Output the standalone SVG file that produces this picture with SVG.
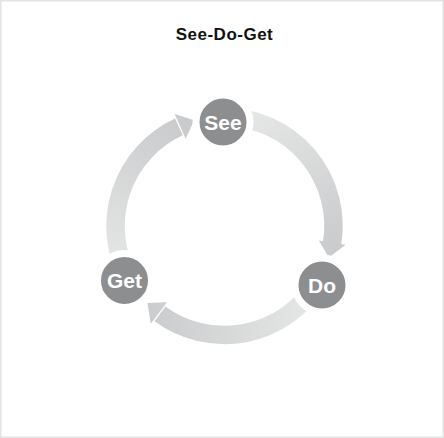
<svg xmlns="http://www.w3.org/2000/svg" width="444" height="438" viewBox="0 0 444 438">
  <style>
    .node circle { fill: #8d8e90; stroke: #ffffff; stroke-width: 7; }
    .node text { font-family: "Liberation Sans", Arial, sans-serif; font-weight: bold; font-size: 21px; fill: #ffffff; text-anchor: middle; }
    .title { font-family: "Liberation Sans", Arial, sans-serif; font-weight: bold; font-size: 17px; fill: #111111; text-anchor: middle; letter-spacing: 0.5px; }
    .shaft { fill: none; stroke-width: 18.5; stroke-linecap: butt; }
  </style>
  <defs>
    <linearGradient id="g1" gradientUnits="userSpaceOnUse" x1="255" y1="112" x2="330" y2="252">
      <stop offset="0" stop-color="#e5e6e6"/>
      <stop offset="1" stop-color="#c9cbcc"/>
    </linearGradient>
    <linearGradient id="g2" gradientUnits="userSpaceOnUse" x1="305" y1="305" x2="150" y2="312">
      <stop offset="0" stop-color="#e4e5e5"/>
      <stop offset="1" stop-color="#cacccd"/>
    </linearGradient>
    <linearGradient id="g3" gradientUnits="userSpaceOnUse" x1="116" y1="255" x2="190" y2="122">
      <stop offset="0" stop-color="#e3e4e4"/>
      <stop offset="1" stop-color="#c8cacb"/>
    </linearGradient>
  </defs>
  <rect x="0" y="0" width="444" height="438" fill="#ffffff"/>
  <rect x="0.75" y="0.75" width="442.5" height="436.5" fill="none" stroke="#e2e3e3" stroke-width="1.5"/>
  <text class="title" x="224.5" y="39.5">See-Do-Get</text>

  <g id="connectors">
    <g id="see-to-do">
      <path class="shaft" stroke="url(#g1)" d="M224.5,117 A109,109 0 0 1 332.01,243.99"/>
      <polygon fill="url(#g1)" points="345.56,244.74 328.85,257.5 318.88,240.61"/>
    </g>
    <g id="do-to-get">
      <path class="shaft" stroke="url(#g2)" d="M316.94,283.76 A109,109 0 0 1 159.97,313.85"/>
      <polygon fill="url(#g2)" points="167.03,302.27 147.43,303.07 150.78,323.83"/>
    </g>
    <g id="get-to-see">
      <path class="shaft" stroke="url(#g3)" d="M129.17,278.84 A109,109 0 0 1 178.95,126.97"/>
      <polygon fill="url(#g3)" points="174.67,114.09 194.2,120.2 185.66,138.76"/>
    </g>
  </g>

  <g id="node-see" class="node">
    <circle cx="223" cy="122" r="27"/>
    <text x="223" y="129.5">See</text>
  </g>
  <g id="node-do" class="node">
    <circle cx="322" cy="285" r="27"/>
    <text x="322" y="292.5">Do</text>
  </g>
  <g id="node-get" class="node">
    <circle cx="124.5" cy="280.5" r="27"/>
    <text x="124.5" y="288">Get</text>
  </g>
</svg>
